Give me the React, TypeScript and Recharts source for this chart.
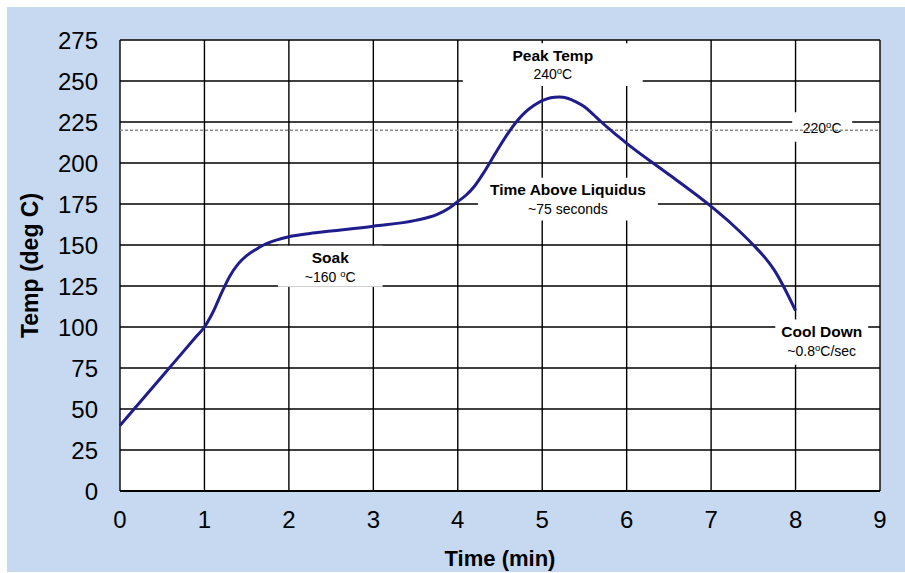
import React from 'react';
import {
  LineChart,
  Line,
  XAxis,
  YAxis,
  CartesianGrid,
  ReferenceLine,
  ReferenceArea,
  Label,
} from 'recharts';

// Reflow profile
const times = [0, 0.5, 0.9, 1, 1.1, 1.2, 1.3, 1.4, 1.5, 1.6, 1.7, 1.85, 2, 2.25, 2.5, 3, 3.5, 3.75, 3.9, 4, 4.1, 4.2, 4.3, 4.4, 4.5, 4.6, 4.7, 4.8, 4.9, 5, 5.1, 5.2, 5.3, 5.4, 5.5, 5.6, 5.7, 5.8, 5.9, 6, 6.5, 7, 7.25, 7.5, 7.65, 7.75, 7.85, 8];
const temps = [40, 70, 94, 100, 109, 120.5, 131, 138.5, 143.5, 147, 150, 153, 155, 157, 158.5, 161.5, 165, 168.5, 172.6, 176.5, 180.5, 186, 193.5, 202, 210.5, 218.5, 225.5, 231, 235, 238, 239.8, 240.3, 239.5, 237.3, 234.3, 229.8, 225, 220.5, 216.2, 212, 193, 173.5, 162.5, 150, 141.5, 134.5, 125.5, 110];

const xTicks = [0, 1, 2, 3, 4, 5, 6, 7, 8, 9];
const yTicks = [0, 25, 50, 75, 100, 125, 150, 175, 200, 225, 250, 275];
const liquidus = 220;

// Annotation boxes (data coordinates) with their texts
const annotations = [
  { x1: 1.87, x2: 3.11, y1: 124.5, y2: 149.6, title: 'Soak', sub: ['~160 ', 'o', 'C'] },
  { x1: 4.06, x2: 6.19, y1: 247, y2: 273, title: 'Peak Temp', sub: ['240', 'o', 'C'] },
  { x1: 4.24, x2: 6.37, y1: 165, y2: 191, title: 'Time Above Liquidus', sub: ['~75 seconds', '', ''] },
  { x1: 7.96, x2: 8.67, y1: 213, y2: 231, title: '', sub: ['220', 'o', 'C'] },
  { x1: 7.76, x2: 8.86, y1: 77, y2: 104.5, title: 'Cool Down', sub: ['~0.8', 'o', 'C/sec'] },
];

const data = times.map((t, i) => ({ t, temp: temps[i] }));

const FONT = '"Liberation Sans", Arial, sans-serif';

const makeLabel = (title: string, sub: string[]) => (props: any) => {
  const vb = props.viewBox || {};
  const cx = vb.x + vb.width / 2;
  const top = vb.y;
  const subY = title ? top + 31 : top + vb.height / 2 + 1;
  return (
    <g>
      {title ? (
        <text x={cx} y={top + 12} textAnchor="middle" dominantBaseline="central" fontFamily={FONT} fontSize={15.5} fontWeight="bold" fill="#000">
          {title}
        </text>
      ) : null}
      <text x={cx} y={subY} textAnchor="middle" dominantBaseline="central" fontFamily={FONT} fontSize={14} fill="#000">
        <tspan>{sub[0]}</tspan>
        {sub[1] ? (
          <tspan dy={-4} fontSize={9.5}>{sub[1]}</tspan>
        ) : null}
        {sub[2] ? <tspan dy={sub[1] ? 4 : 0}>{sub[2]}</tspan> : null}
      </text>
    </g>
  );
};

export default function App() {
  return (
    <div style={{ position: 'absolute', left: 0, top: 0, width: 905, height: 573, background: '#fff' }}>
      <div style={{ position: 'absolute', left: 7, top: 7, width: 898, height: 565, background: '#C6D9F0' }}>
        <LineChart
          width={898}
          height={565}
          data={data}
          margin={{ top: 33, right: 25, bottom: 51, left: 53 }}
        >
          <CartesianGrid stroke="#000" strokeWidth={1.4} horizontal vertical fill="#fff" />
          <XAxis
            dataKey="t"
            type="number"
            domain={[0, 9]}
            ticks={xTicks}
            interval={0}
            tickLine={false}
            tickSize={0}
            tickMargin={20}
            axisLine={{ stroke: '#000', strokeWidth: 2 }}
            tick={{ fontSize: 24, fill: '#000', fontFamily: FONT }}
            height={30}
          >
            <Label value="Time (min)" position="insideBottom" offset={-45} style={{ fontSize: 22, fontWeight: 'bold', fill: '#000', fontFamily: FONT }} />
          </XAxis>
          <YAxis
            type="number"
            domain={[0, 275]}
            ticks={yTicks}
            interval={0}
            tickLine={false}
            tickSize={0}
            tickMargin={22}
            axisLine={false}
            tick={{ fontSize: 24, fill: '#000', fontFamily: FONT }}
            width={60}
          >
            <Label value="Temp (deg C)" angle={-90} position="insideLeft" offset={-30} style={{ fontSize: 23, fontWeight: 'bold', fill: '#000', fontFamily: FONT, textAnchor: 'middle' }} />
          </YAxis>
          <ReferenceLine y={liquidus} stroke="#8c8c8c" strokeWidth={1.6} strokeDasharray="3 2" />
          {annotations.map((a, i) => (
            <ReferenceArea
              key={i}
              x1={a.x1}
              x2={a.x2}
              y1={a.y1}
              y2={a.y2}
              fill="#fff"
              fillOpacity={1}
              stroke="none"
              label={makeLabel(a.title, a.sub)}
            />
          ))}
          <Line
            type="monotone"
            dataKey="temp"
            stroke="#1F1C8C"
            strokeWidth={3}
            dot={false}
            isAnimationActive={false}
          />
        </LineChart>
      </div>
    </div>
  );
}
